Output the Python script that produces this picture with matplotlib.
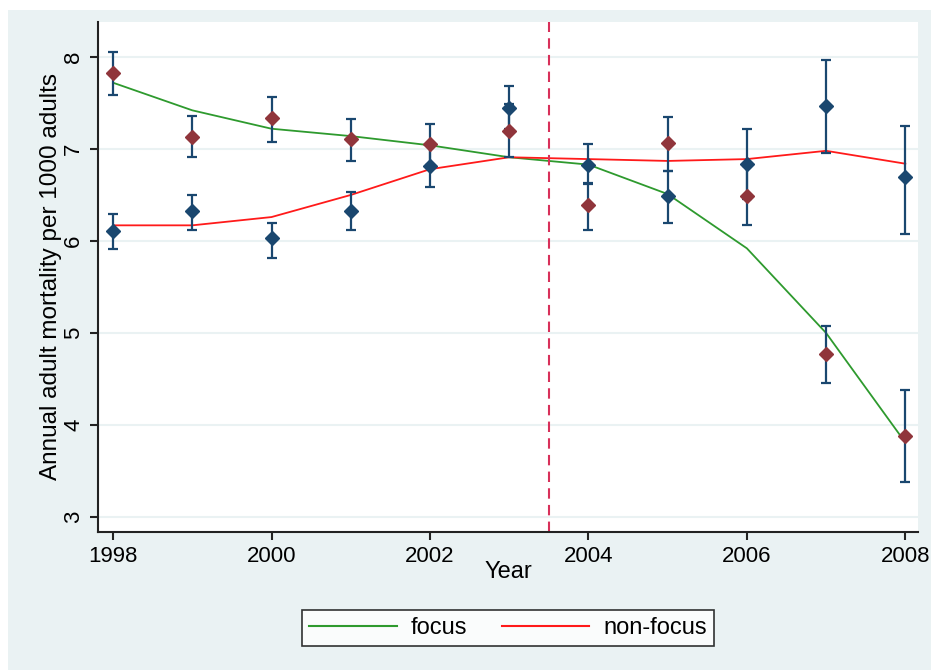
import matplotlib.pyplot as plt
from matplotlib.patches import Rectangle
from matplotlib.lines import Line2D

plt.rcParams['font.family'] = ['Liberation Sans', 'DejaVu Sans']

years = [1998, 1999, 2000, 2001, 2002, 2003, 2004, 2005, 2006, 2007, 2008]

# yearly estimates with 95% CI
focus_mean = [7.83, 7.13, 7.34, 7.11, 7.05, 7.20, 6.39, 7.07, 6.49, 4.77, 3.88]
focus_lo = [7.59, 6.91, 7.08, 6.87, 6.83, 6.91, 6.12, 6.76, 6.17, 4.46, 3.38]
focus_hi = [8.05, 7.36, 7.57, 7.33, 7.27, 7.49, 6.62, 7.35, 6.81, 5.08, 4.38]

nonfocus_mean = [6.11, 6.33, 6.03, 6.33, 6.82, 7.45, 6.83, 6.49, 6.84, 7.47, 6.69]
nonfocus_lo = [5.91, 6.12, 5.82, 6.12, 6.59, 7.22, 6.63, 6.20, 6.46, 6.96, 6.08]
nonfocus_hi = [6.29, 6.50, 6.20, 6.53, 7.04, 7.68, 7.05, 6.76, 7.22, 7.97, 7.25]

# lowess smooths
focus_smooth = [7.72, 7.42, 7.22, 7.14, 7.04, 6.91, 6.83, 6.51, 5.92, 5.00, 3.81]
nonfocus_smooth = [6.17, 6.17, 6.26, 6.50, 6.78, 6.91, 6.89, 6.87, 6.89, 6.98, 6.84]

cutoff = 2003.5

bg = '#eaf2f3'
navy = '#1a476f'
maroon = '#90353b'

fig = plt.figure(figsize=(9.31, 6.7), dpi=100)
fig.patch.set_facecolor('white')
fig.patches.append(Rectangle((8 / 931, 0), 1, 660 / 670, transform=fig.transFigure,
                             facecolor=bg, edgecolor='none', zorder=-10))

ax = fig.add_axes([98 / 931, 1 - 532 / 670, 820 / 931, 510 / 670])
ax.set_facecolor('white')

for y in range(3, 9):
    ax.axhline(y, color=bg, lw=1.5, zorder=0)

ax.plot(years, focus_smooth, color='#2e9a2e', lw=1.3, zorder=2)
ax.plot(years, nonfocus_smooth, color='#ff1a1a', lw=1.3, zorder=2)

for mean, lo, hi, col in [(focus_mean, focus_lo, focus_hi, maroon),
                          (nonfocus_mean, nonfocus_lo, nonfocus_hi, navy)]:
    err = [[m - l for m, l in zip(mean, lo)], [h - m for m, h in zip(mean, hi)]]
    ax.errorbar(years, mean, yerr=err, fmt='none', ecolor=navy, elinewidth=1.6,
                capsize=3.8, capthick=1.6, zorder=3)
    ax.plot(years, mean, 'D', color=col, ms=6.8, mec=col, zorder=4)

ax.axvline(cutoff, color='#d8305a', lw=1.5, dashes=(5, 3), zorder=2)

ax.set_xlim(1997.81, 2008.16)
ax.set_ylim(2.837, 8.38)
ax.set_xticks(range(1998, 2009, 2))
ax.set_yticks(range(3, 9))
for s in ['top', 'right']:
    ax.spines[s].set_visible(False)
for s in ['left', 'bottom']:
    ax.spines[s].set_linewidth(1.5)
    ax.spines[s].set_color('#222222')
ax.tick_params(direction='out', length=6, width=1.5, color='#222222', labelsize=16, pad=4)
for lab in ax.get_yticklabels():
    lab.set_rotation(90)
    lab.set_va('center')

ax.set_xlabel('Year', fontsize=17, labelpad=-4)
ax.set_ylabel('Annual adult mortality per 1000 adults', fontsize=17.5, labelpad=1)

handles = [Line2D([], [], color='#2e9a2e', lw=1.5),
           Line2D([], [], color='#ff1a1a', lw=1.5)]
leg = fig.legend(handles, ['focus', 'non-focus'], loc='center',
                 bbox_to_anchor=(508 / 931, 1 - 628 / 670), ncol=2, fontsize=17,
                 frameon=True, fancybox=False, edgecolor='black', handlelength=3.7,
                 handletextpad=0.6, columnspacing=1.45, borderpad=0.3, borderaxespad=0)
leg.get_frame().set_linewidth(1.2)

fig.savefig('out.png', dpi=100)
